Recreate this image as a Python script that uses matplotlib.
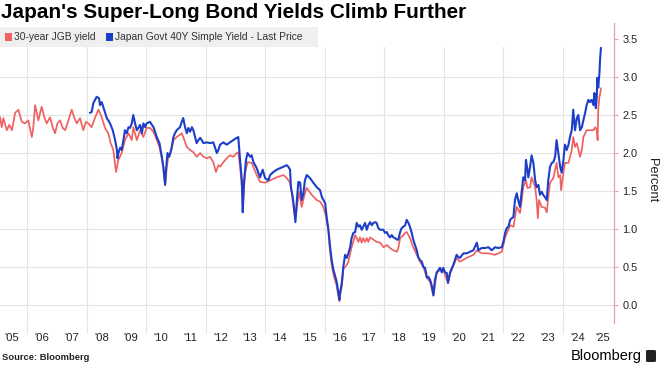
import matplotlib
matplotlib.use('Agg')
import matplotlib.pyplot as plt
from matplotlib import font_manager
from matplotlib.patches import Rectangle, FancyBboxPatch

title = "Japan's Super-Long Bond Yields Climb Further"
legend_labels = ["30-year JGB yield", "Japan Govt 40Y Simple Yield - Last Price"]
year_labels = ["'05", "'06", "'07", "'08", "'09", "'10", "'11", "'12", "'13", "'14", "'15",
               "'16", "'17", "'18", "'19", "'20", "'21", "'22", "'23", "'24", "'25"]
years = list(range(2005, 2026))
y_ticks = [0.0, 0.5, 1.0, 1.5, 2.0, 2.5, 3.0, 3.5]

# 30-year JGB yield (decimal year, percent)
red_dates = [
    2005.09, 2005.15, 2005.20, 2005.32, 2005.40, 2005.49, 2005.60, 2005.71, 2005.82, 2005.93,
    2006.04, 2006.16, 2006.21, 2006.27, 2006.38, 2006.49, 2006.58, 2006.66, 2006.77, 2006.86,
    2006.94, 2007.02, 2007.11, 2007.20, 2007.28, 2007.39, 2007.50, 2007.58, 2007.67, 2007.78,
    2007.89, 2007.98, 2008.06, 2008.17, 2008.29, 2008.40, 2008.51, 2008.62, 2008.73, 2008.81,
    2008.90, 2008.99, 2009.07, 2009.18, 2009.29, 2009.41, 2009.52, 2009.57, 2009.69, 2009.80,
    2009.91, 2010.02, 2010.13, 2010.25, 2010.36, 2010.45, 2010.53, 2010.58, 2010.64, 2010.70,
    2010.75, 2010.83, 2010.92, 2011.03, 2011.14, 2011.20, 2011.25, 2011.37, 2011.48, 2011.59,
    2011.70, 2011.82, 2011.93, 2012.04, 2012.15, 2012.26, 2012.35, 2012.43, 2012.49, 2012.60,
    2012.71, 2012.82, 2012.93, 2013.05, 2013.10, 2013.16, 2013.22, 2013.25, 2013.33, 2013.41,
    2013.55, 2013.72, 2013.83, 2014.00, 2014.17, 2014.39, 2014.62, 2014.73, 2014.84, 2014.90,
    2014.97, 2015.02, 2015.09, 2015.15, 2015.23, 2015.34, 2015.40, 2015.57, 2015.74, 2015.85,
    2015.96, 2016.05, 2016.13, 2016.18, 2016.24, 2016.30, 2016.35, 2016.41, 2016.45, 2016.50,
    2016.52, 2016.58, 2016.63, 2016.75, 2016.80, 2016.91, 2017.03, 2017.08, 2017.14, 2017.19,
    2017.25, 2017.30, 2017.36, 2017.42, 2017.47, 2017.53, 2017.64, 2017.75, 2017.87, 2017.98,
    2018.09, 2018.20, 2018.31, 2018.43, 2018.48, 2018.54, 2018.65, 2018.71, 2018.76, 2018.82,
    2018.87, 2018.98, 2019.10, 2019.21, 2019.32, 2019.44, 2019.55, 2019.66, 2019.77, 2019.88,
    2019.99, 2020.15, 2020.22, 2020.44, 2020.55, 2020.78, 2021.00, 2021.12, 2021.28, 2021.51,
    2021.73, 2021.96, 2022.07, 2022.24, 2022.35, 2022.46, 2022.57, 2022.63, 2022.68, 2022.77,
    2022.82, 2022.91, 2022.96, 2023.08, 2023.13, 2023.17, 2023.21, 2023.30, 2023.41, 2023.47,
    2023.52, 2023.58, 2023.69, 2023.80, 2023.86, 2023.92, 2023.95, 2024.03, 2024.08, 2024.20,
    2024.31, 2024.36, 2024.42, 2024.48, 2024.59, 2024.65, 2024.70, 2024.81, 2024.92, 2025.04,
    2025.10, 2025.15, 2025.18, 2025.20, 2025.24, 2025.27, 2025.29]
red_vals = [
    2.47, 2.34, 2.46, 2.30, 2.37, 2.30, 2.53, 2.57, 2.41, 2.39,
    2.43, 2.21, 2.34, 2.63, 2.43, 2.61, 2.47, 2.39, 2.47, 2.34,
    2.26, 2.39, 2.43, 2.33, 2.30, 2.43, 2.57, 2.47, 2.39, 2.46,
    2.30, 2.41, 2.39, 2.34, 2.47, 2.57, 2.47, 2.33, 2.26, 2.13,
    2.04, 1.75, 1.91, 2.00, 2.17, 2.26, 2.17, 2.34, 2.17, 2.30,
    2.21, 2.33, 2.33, 2.28, 2.17, 2.08, 1.93, 1.80, 1.58, 1.82,
    1.95, 2.01, 2.17, 2.21, 2.24, 2.26, 2.21, 2.08, 2.04, 2.01,
    1.95, 2.00, 1.95, 1.93, 1.95, 1.88, 1.75, 1.84, 1.82, 1.88,
    1.93, 1.97, 1.95, 2.00, 2.01, 1.82, 1.55, 1.29, 1.74, 1.88,
    1.87, 1.71, 1.62, 1.61, 1.64, 1.68, 1.71, 1.67, 1.61, 1.47,
    1.25, 1.14, 1.34, 1.49, 1.29, 1.47, 1.54, 1.45, 1.38, 1.36,
    1.29, 1.16, 0.97, 0.72, 0.52, 0.40, 0.33, 0.25, 0.15, 0.05,
    0.12, 0.24, 0.47, 0.53, 0.57, 0.76, 0.92, 0.88, 0.83, 0.89,
    0.82, 0.88, 0.83, 0.88, 0.83, 0.89, 0.86, 0.83, 0.82, 0.76,
    0.79, 0.75, 0.72, 0.70, 0.75, 0.88, 0.92, 0.95, 0.96, 0.92,
    0.88, 0.76, 0.66, 0.57, 0.50, 0.36, 0.30, 0.12, 0.42, 0.46,
    0.46, 0.29, 0.41, 0.62, 0.57, 0.62, 0.66, 0.72, 0.68, 0.68,
    0.66, 0.70, 0.89, 1.05, 1.03, 1.29, 1.21, 1.38, 1.55, 1.64,
    1.54, 1.55, 1.68, 1.55, 1.38, 1.14, 1.38, 1.29, 1.28, 1.22,
    1.42, 1.61, 1.67, 1.87, 1.68, 1.71, 1.51, 1.74, 1.87, 1.87,
    2.04, 2.21, 2.08, 2.13, 1.95, 2.04, 2.21, 2.30, 2.30, 2.30,
    2.34, 2.30, 2.17, 2.57, 2.74, 2.79, 2.85]

# Japan Govt 40Y simple yield (decimal year, percent)
blue_dates = [
    2008.12, 2008.17, 2008.23, 2008.34, 2008.42, 2008.45, 2008.51, 2008.59, 2008.68, 2008.79,
    2008.88, 2008.96, 2009.02, 2009.04, 2009.07, 2009.13, 2009.18, 2009.24, 2009.29, 2009.35,
    2009.41, 2009.46, 2009.52, 2009.57, 2009.63, 2009.69, 2009.74, 2009.80, 2009.86, 2009.91,
    2009.97, 2010.02, 2010.13, 2010.25, 2010.36, 2010.45, 2010.53, 2010.58, 2010.64, 2010.67,
    2010.72, 2010.78, 2010.86, 2010.92, 2010.97, 2011.03, 2011.14, 2011.20, 2011.25, 2011.31,
    2011.37, 2011.42, 2011.48, 2011.54, 2011.59, 2011.65, 2011.70, 2011.76, 2011.82, 2011.87,
    2011.93, 2012.04, 2012.15, 2012.26, 2012.38, 2012.43, 2012.49, 2012.60, 2012.71, 2012.82,
    2012.93, 2013.05, 2013.10, 2013.16, 2013.22, 2013.25, 2013.29, 2013.36, 2013.41, 2013.50,
    2013.55, 2013.61, 2013.72, 2013.83, 2013.92, 2014.00, 2014.11, 2014.17, 2014.28, 2014.39,
    2014.50, 2014.62, 2014.73, 2014.78, 2014.84, 2014.87, 2014.93, 2014.97, 2015.02, 2015.07,
    2015.12, 2015.18, 2015.23, 2015.29, 2015.34, 2015.40, 2015.51, 2015.62, 2015.74, 2015.85,
    2015.91, 2016.02, 2016.07, 2016.13, 2016.18, 2016.24, 2016.30, 2016.35, 2016.41, 2016.45,
    2016.50, 2016.52, 2016.58, 2016.63, 2016.69, 2016.75, 2016.80, 2016.86, 2016.91, 2016.97,
    2017.03, 2017.08, 2017.14, 2017.19, 2017.25, 2017.30, 2017.36, 2017.42, 2017.47, 2017.53,
    2017.59, 2017.64, 2017.70, 2017.75, 2017.81, 2017.87, 2017.98, 2018.03, 2018.09, 2018.14,
    2018.20, 2018.26, 2018.31, 2018.37, 2018.43, 2018.48, 2018.54, 2018.59, 2018.65, 2018.71,
    2018.76, 2018.82, 2018.87, 2018.93, 2018.98, 2019.04, 2019.10, 2019.15, 2019.21, 2019.27,
    2019.32, 2019.38, 2019.44, 2019.49, 2019.55, 2019.60, 2019.66, 2019.71, 2019.77, 2019.83,
    2019.88, 2019.94, 2019.99, 2020.05, 2020.11, 2020.15, 2020.22, 2020.33, 2020.44, 2020.50,
    2020.55, 2020.67, 2020.78, 2020.89, 2021.00, 2021.12, 2021.17, 2021.28, 2021.40, 2021.51,
    2021.62, 2021.73, 2021.84, 2021.96, 2022.01, 2022.07, 2022.12, 2022.18, 2022.24, 2022.29,
    2022.35, 2022.40, 2022.46, 2022.51, 2022.57, 2022.63, 2022.68, 2022.74, 2022.77, 2022.82,
    2022.85, 2022.91, 2022.96, 2023.02, 2023.08, 2023.13, 2023.19, 2023.24, 2023.30, 2023.35,
    2023.41, 2023.47, 2023.52, 2023.58, 2023.64, 2023.69, 2023.75, 2023.80, 2023.86, 2023.92,
    2023.97, 2024.03, 2024.08, 2024.14, 2024.20, 2024.25, 2024.31, 2024.36, 2024.42, 2024.48,
    2024.53, 2024.59, 2024.65, 2024.70, 2024.76, 2024.81, 2024.87, 2024.92, 2024.98, 2025.04,
    2025.07, 2025.12, 2025.15, 2025.17, 2025.20, 2025.24, 2025.26, 2025.29]
blue_vals = [
    2.53, 2.54, 2.66, 2.74, 2.72, 2.63, 2.67, 2.57, 2.46, 2.39,
    2.30, 2.17, 2.04, 1.93, 2.00, 2.07, 2.04, 2.17, 2.30, 2.26,
    2.34, 2.33, 2.39, 2.50, 2.39, 2.30, 2.33, 2.37, 2.26, 2.39,
    2.34, 2.39, 2.41, 2.34, 2.21, 2.13, 1.95, 1.82, 1.58, 1.78,
    2.00, 1.95, 2.07, 2.21, 2.26, 2.30, 2.34, 2.41, 2.46, 2.34,
    2.26, 2.33, 2.28, 2.34, 2.30, 2.21, 2.13, 2.17, 2.20, 2.17,
    2.13, 2.14, 2.13, 2.14, 2.00, 2.04, 2.11, 2.14, 2.11, 2.14,
    2.17, 2.20, 2.21, 1.91, 1.64, 1.22, 1.61, 1.91, 2.00, 1.95,
    1.97, 1.88, 1.80, 1.68, 1.78, 1.67, 1.64, 1.71, 1.75, 1.78,
    1.80, 1.82, 1.84, 1.82, 1.78, 1.55, 1.42, 1.29, 1.09, 1.38,
    1.62, 1.61, 1.38, 1.47, 1.64, 1.71, 1.67, 1.61, 1.55, 1.51,
    1.42, 1.34, 1.16, 0.99, 0.79, 0.59, 0.46, 0.39, 0.30, 0.20,
    0.07, 0.16, 0.29, 0.50, 0.66, 0.62, 0.68, 0.76, 0.88, 0.95,
    0.96, 1.08, 1.03, 1.05, 0.99, 1.03, 1.08, 0.99, 1.05, 1.09,
    1.05, 1.08, 1.09, 1.08, 1.01, 0.99, 0.99, 0.95, 0.96, 0.92,
    0.89, 0.92, 0.89, 0.88, 0.86, 0.86, 0.96, 1.01, 1.03, 1.05,
    1.12, 1.08, 1.03, 0.95, 0.86, 0.79, 0.72, 0.63, 0.59, 0.57,
    0.50, 0.49, 0.36, 0.37, 0.33, 0.26, 0.13, 0.33, 0.43, 0.46,
    0.49, 0.43, 0.49, 0.43, 0.42, 0.29, 0.43, 0.53, 0.66, 0.63,
    0.62, 0.68, 0.68, 0.70, 0.72, 0.82, 0.72, 0.75, 0.75, 0.76,
    0.72, 0.76, 0.75, 0.76, 0.83, 0.95, 1.01, 1.03, 1.12, 1.14,
    1.16, 1.38, 1.47, 1.38, 1.29, 1.51, 1.68, 1.64, 1.91, 1.78,
    1.68, 1.82, 1.97, 1.87, 1.64, 1.55, 1.58, 1.45, 1.49, 1.45,
    1.42, 1.38, 1.64, 1.82, 1.87, 1.88, 1.95, 2.17, 2.00, 1.82,
    1.74, 1.91, 2.11, 2.04, 2.11, 2.21, 2.30, 2.57, 2.30, 2.46,
    2.50, 2.30, 2.34, 2.43, 2.53, 2.63, 2.70, 2.67, 2.70, 2.63,
    2.79, 2.59, 2.74, 2.99, 2.86, 3.05, 3.22, 3.38]

red_color = '#ef6262'
blue_color = '#1d3fc8'
grid_color = '#e4e4e4'
spine_color = '#e3a2a7'
text_color = '#222222'

names = {f.name for f in font_manager.fontManager.ttflist}
if 'Liberation Sans Narrow' in names:
    font, k = 'Liberation Sans Narrow', 1.0
else:
    font, k = 'Liberation Sans', 0.84
plt.rcParams['font.family'] = [font, 'DejaVu Sans']

W, H = 660, 367


def fx(x):
    return x / W


def fy(y):
    return 1 - y / H


fig = plt.figure(figsize=(6.6, 3.67), dpi=100)
ax = fig.add_axes([0, fy(323), fx(614), fy(23) - fy(323)])

ax.plot(red_dates, red_vals, color=red_color, lw=1.25, zorder=2)
ax.plot(blue_dates, blue_vals, color=blue_color, lw=1.5, zorder=3)

ax.set_xlim(2005.09, 2025.73)
ax.set_ylim(-0.237, 3.711)

# gridlines at every other year, labels in the middle of each year
ax.set_xticks([y for y in years if y % 2 == 0 and y > 2005])
ax.set_xticklabels([])
mids = [y + 0.5 for y in years[:-1]] + [(2025 + 2025.73) / 2]
ax.set_xticks(mids, year_labels, minor=True)
ax.tick_params(axis='x', which='major', length=7, color=grid_color, width=0.8)
ax.tick_params(axis='x', which='minor', length=0, pad=7, labelsize=9.6 * k, labelcolor=text_color)

ax.yaxis.tick_right()
ax.set_yticks(y_ticks, ['%.1f' % v for v in y_ticks])
ax.tick_params(axis='y', length=3, color=spine_color, width=0.8, pad=3,
               labelsize=9.4 * k, labelcolor=text_color)

ax.set_axisbelow(True)
ax.grid(axis='x', which='major', color=grid_color, lw=0.8)
ax.grid(axis='y', color=grid_color, lw=0.8)
ax.axhspan(3.39, 3.8, color='white', zorder=1, lw=0)

for side in ['left', 'top', 'bottom']:
    ax.spines[side].set_visible(False)
ax.spines['right'].set_color(spine_color)
ax.spines['right'].set_linewidth(0.9)

fig.text(fx(652), fy(180), 'Percent', rotation=270, ha='center', va='center',
         fontsize=11 * k, color=text_color)

fig.text(fx(1), fy(12), title, fontsize=17.8 * k, fontweight='bold', color='black',
         ha='left', va='center')

# legend strip
fig.patches.append(Rectangle((0, fy(47)), fx(318), fy(27) - fy(47), transform=fig.transFigure,
                             facecolor='#efefef', edgecolor='none', zorder=1))
fig.patches.append(Rectangle((fx(5), fy(40.5)), fx(6.5), fy(33) - fy(40.5), transform=fig.transFigure,
                             facecolor=red_color, edgecolor='none', zorder=2))
fig.text(fx(14), fy(37), legend_labels[0], fontsize=8.8 * k, color='#333333', ha='left', va='center')
fig.patches.append(Rectangle((fx(106), fy(40.5)), fx(6.5), fy(33) - fy(40.5), transform=fig.transFigure,
                             facecolor=blue_color, edgecolor='none', zorder=2))
fig.text(fx(115), fy(37), legend_labels[1], fontsize=8.8 * k, color='#333333', ha='left', va='center')

fig.text(fx(2), fy(357), 'Source: Bloomberg', fontsize=8 * k, fontweight='bold',
         color=text_color, ha='left', va='center')
fig.text(fx(642), fy(356), 'Bloomberg', fontsize=12.5 * k, color='black', ha='right', va='center')
fig.patches.append(FancyBboxPatch((fx(646), fy(362)), fx(10), fy(350) - fy(362),
                                  boxstyle='round,pad=0,rounding_size=0.003', transform=fig.transFigure,
                                  facecolor='#222222', edgecolor='none', zorder=2))

fig.savefig('out.png', dpi=100)
